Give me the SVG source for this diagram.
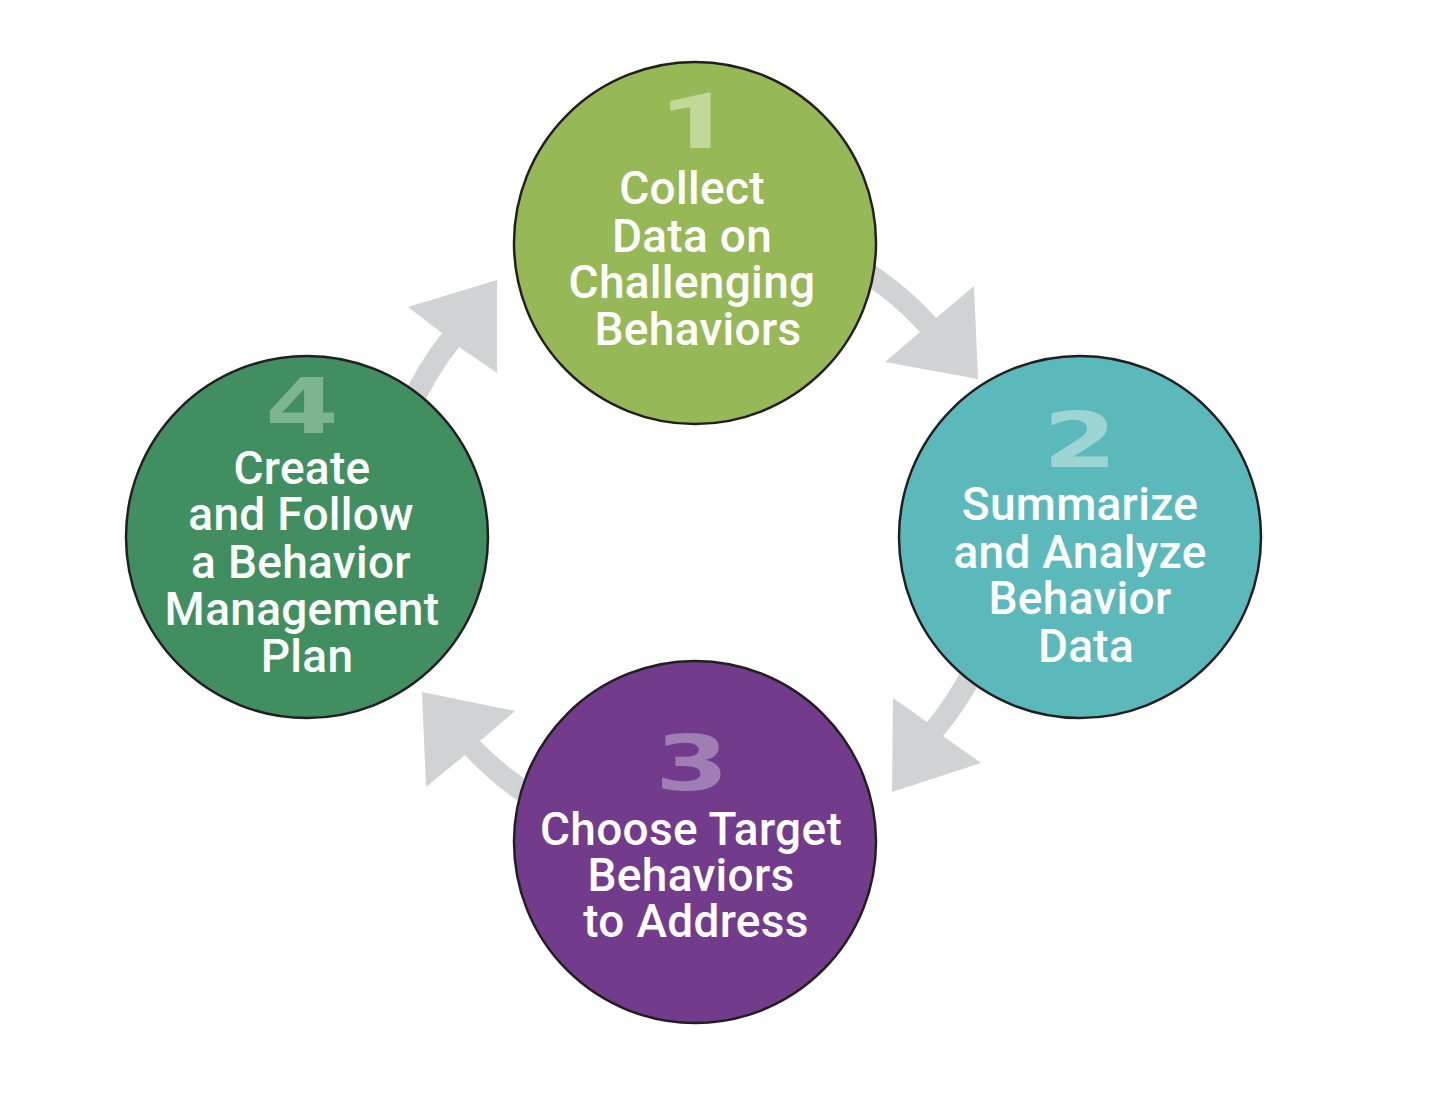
<svg xmlns="http://www.w3.org/2000/svg" width="1436" height="1110" viewBox="0 0 1436 1110">
<style>
.c{stroke:#231F20;stroke-width:2.5}
.t{font-family:Roboto,"Liberation Sans",sans-serif;font-weight:500;font-size:46px;letter-spacing:0.3px;fill:#fff;text-anchor:middle}
.n{font-family:"DejaVu Sans","Liberation Sans",sans-serif;font-weight:bold;font-size:76px;text-anchor:middle}
.n1{font-family:Roboto,"Liberation Sans",sans-serif;font-weight:900;font-size:77px;text-anchor:middle}
.a{fill:#D1D2D4}
</style>
<rect width="1436" height="1110" fill="#fff"/>
<g id="connectors">
<path class="a" d="M 855 253 A 322 322 0 0 1 936 318 L 974 286 L 978 379 L 885 362 L 920 332 A 300 300 0 0 0 850 275 Z"/>
<path class="a" d="M 981 680 A 322 322 0 0 1 943 736 L 981 763 L 892 792 L 893 698 L 927 722 A 300 300 0 0 0 964 665 Z"/>
<path class="a" d="M 532 810 A 322 322 0 0 1 465 755 L 426 787 L 422 692 L 515 711 L 480 741 A 300 300 0 0 0 534 785 Z"/>
<path class="a" d="M 400 403 A 322 322 0 0 1 442 333 L 408 307 L 497 280 L 497 373 L 459 347 A 300 300 0 0 0 420 412 Z"/>
</g>
<g id="node1">
<circle class="c" cx="695" cy="243" r="181" fill="#97B857"/>
<text class="n1" transform="translate(696 148) scale(1.6 1)" fill="#C2D89A">1</text>
<text class="t" x="692" y="204">Collect</text>
<text class="t" x="692" y="252">Data on</text>
<text class="t" x="692" y="298">Challenging</text>
<text class="t" x="698" y="345">Behaviors</text>
</g>
<g id="node2">
<circle class="c" cx="1080" cy="537" r="181" fill="#5BB9BC"/>
<text class="n" transform="translate(1080 467) scale(1.4 1)" fill="#9FD4D5">2</text>
<text class="t" x="1080" y="520">Summarize</text>
<text class="t" x="1080" y="568">and Analyze</text>
<text class="t" x="1080" y="614">Behavior</text>
<text class="t" x="1086" y="662">Data</text>
</g>
<g id="node3">
<circle class="c" cx="695" cy="842" r="181" fill="#723B8C"/>
<text class="n" transform="translate(692 790) scale(1.4 1)" fill="#A07DB3">3</text>
<text class="t" x="691" y="845">Choose Target</text>
<text class="t" x="691" y="891">Behaviors</text>
<text class="t" x="696" y="937">to Address</text>
</g>
<g id="node4">
<circle class="c" cx="307" cy="537" r="181" fill="#418F61"/>
<text class="n" transform="translate(302 433) scale(1.4 1)" fill="#7CB590">4</text>
<text class="t" x="302" y="484">Create</text>
<text class="t" x="301" y="530">and Follow</text>
<text class="t" x="301" y="578">a Behavior</text>
<text class="t" x="302" y="625">Management</text>
<text class="t" x="307" y="672">Plan</text>
</g>
</svg>
